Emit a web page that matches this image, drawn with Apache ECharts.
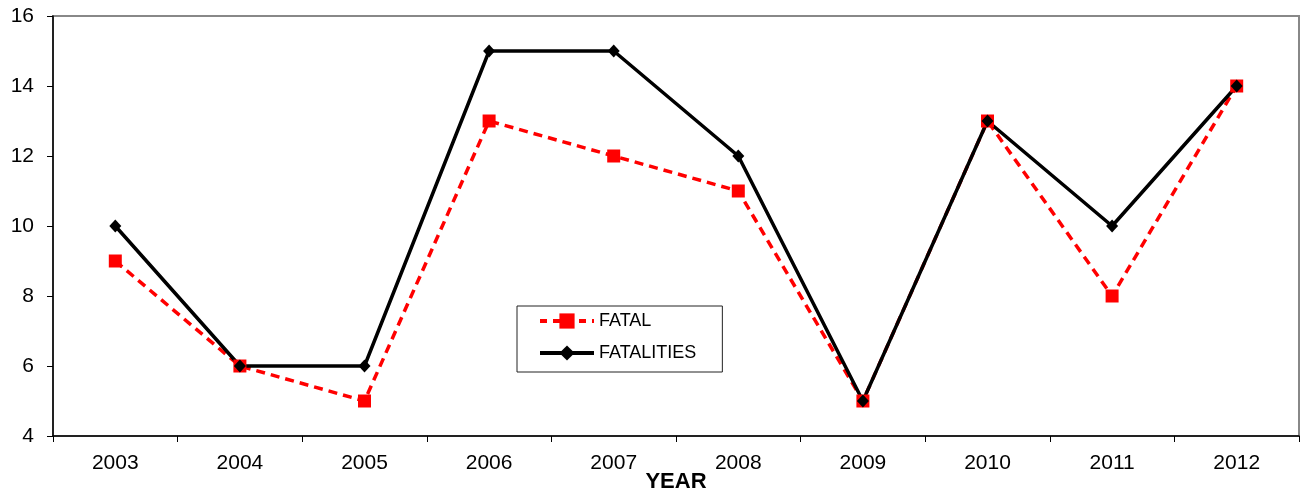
<!DOCTYPE html>
<html><head><meta charset="utf-8">
<script src="https://cdn.jsdelivr.net/npm/echarts@6/dist/echarts.min.js"></script>
<style>html,body{margin:0;padding:0;background:#fff}#c{width:1302px;height:495px}</style>
</head><body><div id="c"></div>
<script>
const years = ['2003','2004','2005','2006','2007','2008','2009','2010','2011','2012'];
const fatal = [9, 6, 5, 13, 12, 11, 5, 13, 8, 14];
const fatalities = [10, 6, 6, 15, 15, 12, 5, 13, 10, 14];
const yTicks = {min: 4, max: 16, interval: 2};

const font = '"Liberation Sans", Arial, sans-serif';
const chart = echarts.init(document.getElementById('c'), null, {renderer: 'canvas'});
chart.setOption({
  animation: false,
  textStyle: {fontFamily: font},
  grid: {left: 53, right: 3, top: 16, bottom: 59, show: true, borderColor: '#888', borderWidth: 2,
         containLabel: false, outerBoundsMode: 'none'},
  legend: {
    orient: 'vertical', left: 517, top: 306,
    padding: [5, 26, 9, 21],
    borderColor: '#222', borderWidth: 1, backgroundColor: '#fff',
    itemWidth: 54, itemHeight: 19, itemGap: 12,
    textStyle: {fontFamily: font, fontSize: 18, color: '#000', lineHeight: 20},
    data: [
      {name: 'FATAL', lineStyle: {width: 4, type: [7, 6]}},
      {name: 'FATALITIES', lineStyle: {width: 4}}
    ]
  },
  xAxis: {
    type: 'category', data: years, boundaryGap: true,
    name: 'YEAR', nameLocation: 'middle', nameGap: 35, nameMoveOverlap: false,
    nameTextStyle: {fontFamily: font, fontSize: 22, fontWeight: 'bold', color: '#000'},
    axisLine: {lineStyle: {color: '#000', width: 1.5}},
    axisTick: {show: true, length: 6, inside: false, lineStyle: {color: '#000', width: 1}},
    axisLabel: {fontFamily: font, fontSize: 21, color: '#000', margin: 17}
  },
  yAxis: {
    type: 'value', min: yTicks.min, max: yTicks.max, interval: yTicks.interval,
    axisLine: {show: true, lineStyle: {color: '#000', width: 1.5}},
    axisTick: {show: true, length: 6, lineStyle: {color: '#000', width: 1}},
    splitLine: {show: false},
    axisLabel: {fontFamily: font, fontSize: 21, color: '#000', margin: 19}
  },
  series: [
    {
      name: 'FATAL', type: 'line', data: fatal,
      symbol: 'rect', symbolSize: 13,
      lineStyle: {color: '#ff0000', width: 3.5, type: [9, 6]},
      itemStyle: {color: '#ff0000'}
    },
    {
      name: 'FATALITIES', type: 'line', data: fatalities,
      symbol: 'diamond', symbolSize: [12, 13],
      lineStyle: {color: '#000', width: 3.5},
      itemStyle: {color: '#000'}
    }
  ]
});
</script></body></html>
